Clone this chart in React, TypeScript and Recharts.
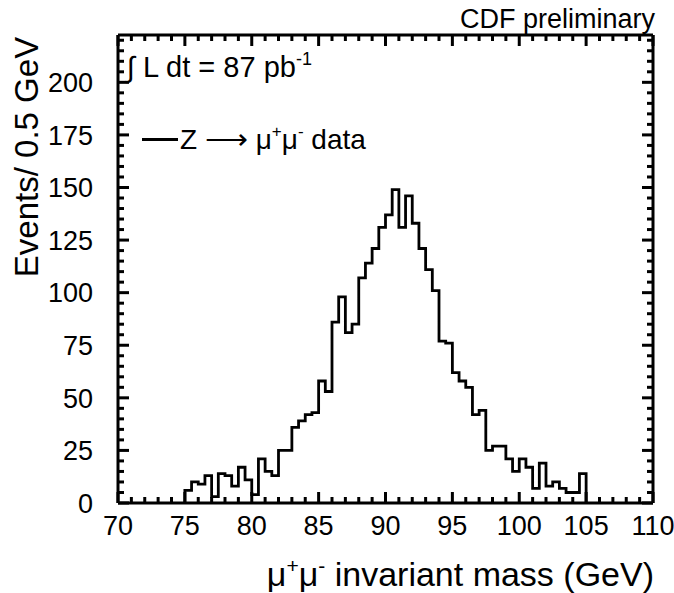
import type { ReactNode } from 'react'
import { LineChart, Line, XAxis, YAxis } from 'recharts'

// Z -> mu+ mu- invariant mass, 0.5 GeV bins starting at 75 GeV
const HIST_START = 75
const BIN_WIDTH = 0.5
const EVENTS = [
  6, 10, 9, 13, 3, 14, 13, 8, 17, 11,
  4, 21, 15, 13, 25, 25, 36, 39, 42, 43,
  58, 53, 86, 98, 81, 85, 107, 114, 121, 131,
  137, 149, 131, 146, 133, 121, 111, 101, 77, 76,
  62, 58, 55, 42, 44, 25, 27, 27, 21, 15,
  21, 17, 7, 19, 8, 10, 7, 5, 5, 14,
]

const X_LABELS = [70, 75, 80, 85, 90, 95, 100, 105, 110]
const Y_LABELS = [0, 25, 50, 75, 100, 125, 150, 175, 200]
const X_DOMAIN = [70, 110]
const Y_DOMAIN = [0, 222.5]

// minor ticks: every 1 GeV and every 5 events
const X_TICKS = Array.from({ length: 41 }, (_, i) => 70 + i)
const Y_TICKS = Array.from({ length: 45 }, (_, i) => i * 5)

// step outline: rise at the first edge, drop after the last bin
const histData = [
  { m: HIST_START, n: 0 },
  ...EVENTS.map((n, i) => ({ m: HIST_START + BIN_WIDTH * i, n })),
  { m: HIST_START + BIN_WIDTH * EVENTS.length, n: 0 },
]

const FONT = "'Liberation Sans', Arial, Helvetica, sans-serif"
const INK = '#000'
const TICK_FONT = 27
const RULE = 3

function BottomTick({ x, y, payload }: any) {
  const major = X_LABELS.includes(payload.value)
  return (
    <g>
      <line x1={x} y1={y} x2={x} y2={y - (major ? 11 : 6)} stroke={INK} strokeWidth={RULE} />
      {major && (
        <text x={x} y={y + 32} textAnchor="middle" fontSize={TICK_FONT} fill={INK} fontFamily={FONT}>
          {payload.value}
        </text>
      )}
    </g>
  )
}

function TopTick({ x, y, payload }: any) {
  const major = X_LABELS.includes(payload.value)
  return <line x1={x} y1={y} x2={x} y2={y + (major ? 11 : 6)} stroke={INK} strokeWidth={RULE} />
}

function LeftTick({ x, y, payload }: any) {
  const major = Y_LABELS.includes(payload.value)
  return (
    <g>
      <line x1={x} y1={y} x2={x + (major ? 11 : 6)} y2={y} stroke={INK} strokeWidth={RULE} />
      {major && (
        <text x={x - 25} y={y} dy="0.36em" textAnchor="end" fontSize={TICK_FONT} fill={INK} fontFamily={FONT}>
          {payload.value}
        </text>
      )}
    </g>
  )
}

function RightTick({ x, y, payload }: any) {
  const major = Y_LABELS.includes(payload.value)
  return <line x1={x} y1={y} x2={x - (major ? 11 : 6)} y2={y} stroke={INK} strokeWidth={RULE} />
}

const frame = { stroke: INK, strokeWidth: RULE }

function Sup({ size, rise, children }: { size: number; rise: number; children: ReactNode }) {
  return <span style={{ fontSize: size, position: 'relative', top: -rise }}>{children}</span>
}

const note = { position: 'absolute' as const, lineHeight: 1, whiteSpace: 'nowrap' as const, color: INK }

export default function App() {
  return (
    <div style={{ position: 'absolute', left: 0, top: 0, width: 674, height: 593, fontFamily: FONT, background: '#fff' }}>
      <div style={{ position: 'absolute', left: 40, top: 0 }}>
        <LineChart width={634} height={553} data={histData} margin={{ top: 15, right: 1, bottom: 20, left: 18 }}>
          <XAxis
            xAxisId="bottom"
            orientation="bottom"
            dataKey="m"
            type="number"
            domain={X_DOMAIN}
            ticks={X_TICKS}
            interval={0}
            height={30}
            tickSize={0}
            tickMargin={0}
            tickLine={false}
            axisLine={frame}
            tick={(p: any) => <BottomTick {...p} />}
          />
          <XAxis
            xAxisId="top"
            orientation="top"
            dataKey="m"
            type="number"
            domain={X_DOMAIN}
            ticks={X_TICKS}
            interval={0}
            height={20}
            tickSize={0}
            tickMargin={0}
            tickLine={false}
            axisLine={frame}
            tick={(p: any) => <TopTick {...p} />}
          />
          <YAxis
            yAxisId="left"
            orientation="left"
            type="number"
            domain={Y_DOMAIN}
            ticks={Y_TICKS}
            interval={0}
            width={60}
            tickSize={0}
            tickMargin={0}
            tickLine={false}
            axisLine={frame}
            allowDataOverflow
            tick={(p: any) => <LeftTick {...p} />}
          />
          <YAxis
            yAxisId="right"
            orientation="right"
            type="number"
            domain={Y_DOMAIN}
            ticks={Y_TICKS}
            interval={0}
            width={20}
            tickSize={0}
            tickMargin={0}
            tickLine={false}
            axisLine={frame}
            allowDataOverflow
            tick={(p: any) => <RightTick {...p} />}
          />
          <Line
            xAxisId="bottom"
            yAxisId="left"
            type="stepAfter"
            dataKey="n"
            stroke={INK}
            strokeWidth={2.8}
            dot={false}
            isAnimationActive={false}
          />
        </LineChart>
      </div>

      <div style={{ ...note, right: 19, top: 6, fontSize: 27 }}>CDF preliminary</div>

      <div
        style={{
          ...note,
          left: 25.6,
          top: 157,
          fontSize: 33,
          transform: 'translate(-50%, -50%) rotate(-90deg)',
        }}
      >
        Events/ 0.5 GeV
      </div>

      <div style={{ ...note, right: 20, top: 557, fontSize: 34 }}>
        μ<Sup size={21} rise={13}>+</Sup>μ<Sup size={21} rise={13}>-</Sup> invariant mass (GeV)
      </div>

      <div style={{ ...note, left: 127, top: 52.5, fontSize: 29 }}>
        ∫ L dt = 87 pb<Sup size={18} rise={12}>-1</Sup>
      </div>

      <div style={{ position: 'absolute', left: 142, top: 137.5, width: 36, height: 0, borderTop: `3px solid ${INK}` }} />
      <div style={{ ...note, left: 180, top: 124.3, fontSize: 28 }}>
        Z <span style={{ fontSize: 30 }}>⟶</span> μ<Sup size={17} rise={12}>+</Sup>μ<Sup size={17} rise={12}>-</Sup> data
      </div>
    </div>
  )
}
